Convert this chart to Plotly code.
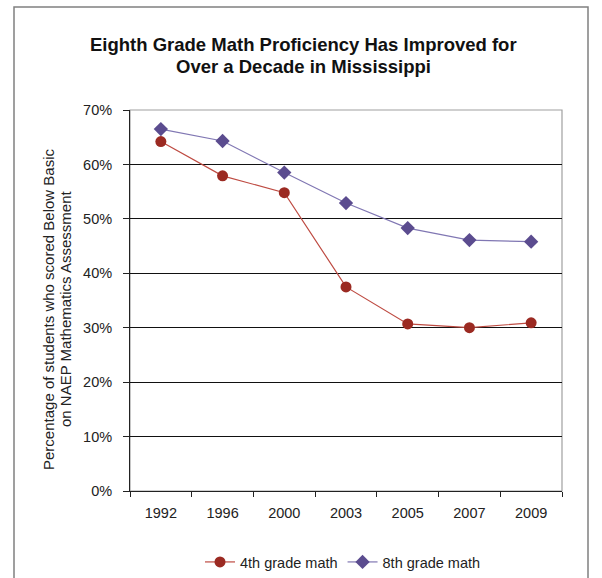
import plotly.graph_objects as go

years = ["1992", "1996", "2000", "2003", "2005", "2007", "2009"]
grade4 = [64.2, 57.9, 54.8, 37.5, 30.7, 30.0, 30.9]
grade8 = [66.5, 64.3, 58.5, 52.9, 48.3, 46.1, 45.8]
yticks = [0, 10, 20, 30, 40, 50, 60, 70]
ytick_text = [f"{v}%" for v in yticks]
title_lines = ["Eighth Grade Math Proficiency Has Improved for",
               "Over a Decade in Mississippi"]
ytitle_lines = ["Percentage of students who scored Below Basic",
                "on NAEP Mathematics Assessment"]

fig = go.Figure()
fig.add_trace(go.Scatter(
    x=years, y=grade4, name="4th grade math", mode="lines+markers",
    line=dict(color="#BE4B42", width=1.2),
    marker=dict(symbol="circle", size=11, color="#9B2A22"),
))
fig.add_trace(go.Scatter(
    x=years, y=grade8, name="8th grade math", mode="lines+markers",
    line=dict(color="#8077B3", width=1.2),
    marker=dict(symbol="diamond", size=11, color="#5B4C8F"),
))

L, R, T, B = 130, 40, 110, 87
W, H = 602 - L - R, 578 - T - B


def px(x):
    return (x - L) / W


def py(y):
    return (578 - B - y) / H


annotations = [
    dict(text=f"<b>{title_lines[0]}</b>", x=px(303), y=py(45),
         font=dict(size=18.5, color="#111")),
    dict(text=f"<b>{title_lines[1]}</b>", x=px(303), y=py(66),
         font=dict(size=18.5, color="#111")),
    dict(text=ytitle_lines[0], x=px(48), y=py(309), textangle=-90,
         font=dict(size=15, color="#222")),
    dict(text=ytitle_lines[1], x=px(65), y=py(309), textangle=-90,
         font=dict(size=15, color="#222")),
]
for a in annotations:
    a.update(xref="paper", yref="paper", xanchor="center", yanchor="middle",
             showarrow=False)

fig.update_layout(
    width=602, height=578,
    margin=dict(l=L, r=R, t=T, b=B, autoexpand=False),
    paper_bgcolor="white", plot_bgcolor="white",
    font=dict(family="Liberation Sans, Arial, sans-serif", color="#222", size=14),
    xaxis=dict(
        type="category", tickson="boundaries", ticks="outside", ticklen=5,
        tickcolor="#222", showline=True, linecolor="#222", linewidth=1,
        showgrid=False, tickfont=dict(size=14.5, color="#222"),
        ticklabelstandoff=9,
        range=[-0.5, 6.5], fixedrange=True,
    ),
    yaxis=dict(
        range=[0, 70], tickvals=yticks, ticktext=ytick_text,
        ticks="outside", ticklen=6, tickcolor="#222",
        showline=True, linecolor="#222", linewidth=1,
        showgrid=True, gridcolor="#111", gridwidth=1,
        zeroline=False, tickfont=dict(size=14.5, color="#222"),
        ticklabelstandoff=8,
    ),
    legend=dict(
        orientation="h", x=px(343), xanchor="center",
        y=py(562), yanchor="middle",
        font=dict(size=14.5, color="#222"), itemwidth=30,
    ),
    showlegend=True,
    annotations=annotations,
    shapes=[
        dict(type="rect", xref="paper", yref="paper",
             x0=0, x1=1, y0=0, y1=1,
             line=dict(color="#a0a0a0", width=1.2), layer="below"),
        dict(type="rect", xref="paper", yref="paper",
             x0=px(14), x1=px(588), y0=py(610), y1=py(7),
             line=dict(color="#808080", width=1.5)),
    ],
)

fig.write_html("out.html")
